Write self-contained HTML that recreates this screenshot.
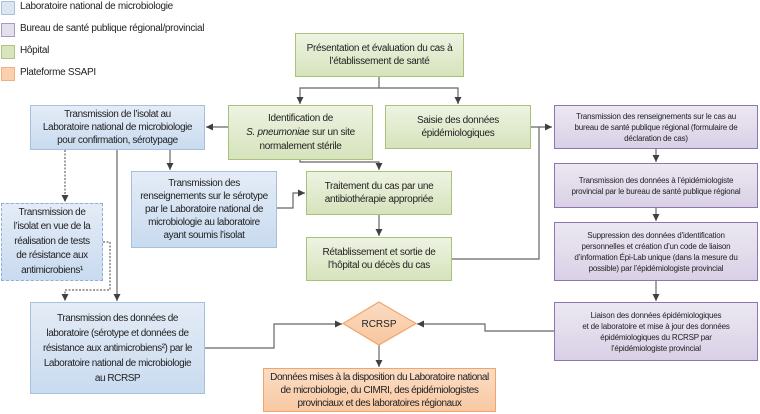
<!DOCTYPE html>
<html><head><meta charset="utf-8"><style>
body{margin:0;width:760px;height:414px;background:#fff;position:relative;overflow:hidden;font-family:"Liberation Sans",sans-serif;color:#222}
.b{position:absolute;box-sizing:border-box;display:flex;align-items:center;justify-content:center;text-align:center;font-size:10px;line-height:13px;padding:0;letter-spacing:-0.3px;white-space:nowrap}
.b>span{display:block}
.bl{background:linear-gradient(#e4ecf6,#c9dbf0);border:1.5px solid #a7c0de}
.gr{background:linear-gradient(#eef3e2,#d6e3bc);border:1.5px solid #a9c27a}
.pu{background:linear-gradient(#ece8f2,#d9d0e6);border:1.5px solid #8c76ad;font-size:8px;line-height:11px;letter-spacing:-0.2px}
.or{background:linear-gradient(#fbdcc4,#f8c9a4);border:1.5px solid #f0a56a}
.dash{background:linear-gradient(#e4ecf6,#c9dbf0);border:1.5px dashed #8eb0d8}
.lg{position:absolute;left:1px;width:14px;height:14px;box-sizing:border-box}
.lt{position:absolute;left:20px;font-size:10px;letter-spacing:-0.3px}
</style></head><body>
<div class="lg" style="top:1px;background:#dce6f2;border:1px solid #a7c0de"></div><div class="lt" style="top:1px">Laboratoire national de microbiologie</div>
<div class="lg" style="top:23px;background:#e4dfec;border:1px solid #a899c0"></div><div class="lt" style="top:23px">Bureau de santé publique régional/provincial</div>
<div class="lg" style="top:45px;background:#d7e4bd;border:1px solid #b0c585"></div><div class="lt" style="top:45px">Hôpital</div>
<div class="lg" style="top:67px;background:#fbd0ac;border:1px solid #f2b07e"></div><div class="lt" style="top:67px">Plateforme SSAPI</div>

<svg width="760" height="414" style="position:absolute;left:0;top:0">
<defs><marker id="a" markerWidth="8" markerHeight="8" refX="7" refY="4" orient="auto" markerUnits="userSpaceOnUse"><path d="M0,0.5 L7,4 L0,7.5z" fill="#404040"/></marker></defs>
<g fill="none" stroke="#666" stroke-width="1.2">
<path d="M379,77V88H300V104" marker-end="url(#a)"/>
<path d="M379,88H458V104" marker-end="url(#a)"/>
<path d="M228,127H206" marker-end="url(#a)"/>
<path d="M300,160V162H379V170" marker-end="url(#a)"/>
<path d="M170,150V170" marker-end="url(#a)"/>
<path d="M65,150V202" stroke-dasharray="2,1.5" marker-end="url(#a)"/>
<path d="M117,150V301" marker-end="url(#a)"/>
<path d="M103,242H110V290H65V301" stroke-dasharray="2,1.5" marker-end="url(#a)"/>
<path d="M277,208H293V193H305" marker-end="url(#a)"/>
<path d="M379,215V236" marker-end="url(#a)"/>
<path d="M531,127H552" marker-end="url(#a)"/>
<path d="M452,259H539V127"/>
<path d="M656,149V162" marker-end="url(#a)"/>
<path d="M656,208V221" marker-end="url(#a)"/>
<path d="M656,281V301" marker-end="url(#a)"/>
<path d="M554,331H485V324H417" marker-end="url(#a)"/>
<path d="M205,348H274V324H342" marker-end="url(#a)"/>
<path d="M379,345V367" marker-end="url(#a)"/>
</g>
<defs><linearGradient id="og" x1="0" y1="0" x2="0" y2="1"><stop offset="0" stop-color="#fbdcc4"/><stop offset="1" stop-color="#f8c59c"/></linearGradient></defs>
<path d="M379,302L416,323.5L379,345L343,323.5z" fill="url(#og)" stroke="#f0a56a" stroke-width="1.2"/>
<text x="379" y="327" text-anchor="middle" font-size="10" font-family="Liberation Sans,sans-serif" fill="#222">RCRSP</text>
</svg>

<div class="b gr" style="left:295px;top:33px;width:169px;height:44px"><span>Présentation et évaluation du cas à<br>l’établissement de santé</span></div>
<div class="b gr" style="left:228px;top:105px;width:145px;height:55px;line-height:14px"><span>Identification de<br><i>S. pneumoniae</i> sur un site<br>normalement stérile</span></div>
<div class="b gr" style="left:385px;top:105px;width:146px;height:44px"><span>Saisie des données<br>épidémiologiques</span></div>
<div class="b bl" style="left:30px;top:105px;width:175px;height:45px;letter-spacing:-0.4px"><span>Transmission de l’isolat au<br>Laboratoire national de microbiologie<br>pour confirmation, sérotypage</span></div>
<div class="b bl" style="left:131px;top:171px;width:146px;height:77px;letter-spacing:-0.4px"><span>Transmission des<br>renseignements sur le sérotype<br>par le Laboratoire national de<br>microbiologie au laboratoire<br>ayant soumis l’isolat</span></div>
<div class="b gr" style="left:306px;top:171px;width:146px;height:44px"><span>Traitement du cas par une<br>antibiothérapie appropriée</span></div>
<div class="b gr" style="left:306px;top:237px;width:146px;height:44px"><span>Rétablissement et sortie de<br>l’hôpital ou décès du cas</span></div>
<div class="b dash" style="left:1px;top:203px;width:102px;height:78px;line-height:14.5px;letter-spacing:-0.4px"><span>Transmission de<br>l’isolat en vue de la<br>réalisation de tests<br>de résistance aux<br>antimicrobiens¹</span></div>
<div class="b bl" style="left:30px;top:302px;width:175px;height:92px;line-height:15px;letter-spacing:-0.45px"><span>Transmission des données de<br>laboratoire (sérotype et données de<br>résistance aux antimicrobiens²) par le<br>Laboratoire national de microbiologie<br>au RCRSP</span></div>
<div class="b or" style="left:263px;top:368px;width:233px;height:44px;letter-spacing:-0.45px"><span>Données mises à la disposition du Laboratoire national<br>de microbiologie, du CIMRI, des épidémiologistes<br>provinciaux et des laboratoires régionaux</span></div>
<div class="b pu" style="left:554px;top:105px;width:204px;height:44px"><span>Transmission des renseignements sur le cas au<br>bureau de santé publique régional (formulaire de<br>déclaration de cas)</span></div>
<div class="b pu" style="left:554px;top:163px;width:204px;height:45px"><span>Transmission des données à l’épidémiologiste<br>provincial par le bureau de santé publique régional</span></div>
<div class="b pu" style="left:554px;top:222px;width:204px;height:59px"><span>Suppression des données d’identification<br>personnelles et création d’un code de liaison<br>d’information Épi-Lab unique (dans la mesure du<br>possible) par l’épidémiologiste provincial</span></div>
<div class="b pu" style="left:554px;top:302px;width:204px;height:59px"><span>Liaison des données épidémiologiques<br>et de laboratoire et mise à jour des données<br>épidémiologiques du RCRSP par<br>l’épidémiologiste provincial</span></div>
</body></html>
